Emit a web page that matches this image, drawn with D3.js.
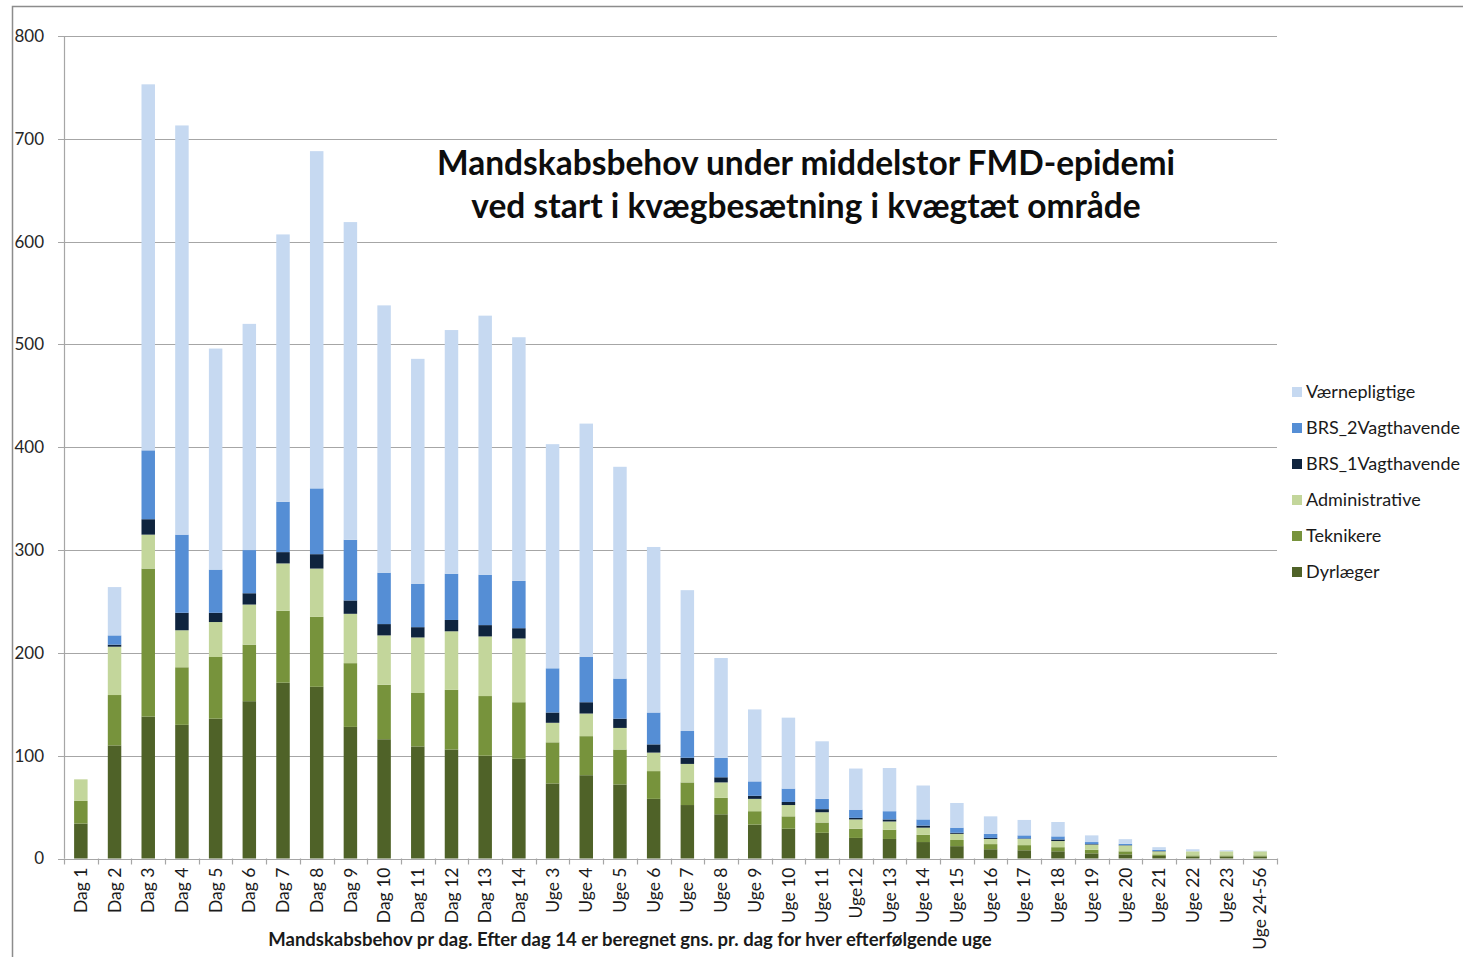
<!DOCTYPE html>
<html>
<head>
<meta charset="utf-8">
<script src="https://cdn.jsdelivr.net/npm/d3@7"></script>
<style>
  body { margin: 0; background: #fff; }
  text { font-family: Lato, "Open Sans", sans-serif; }
</style>
</head>
<body>
<div id="chart"></div>
<script>
var categories = ["Dag 1","Dag 2","Dag 3","Dag 4","Dag 5","Dag 6","Dag 7","Dag 8","Dag 9","Dag 10",
  "Dag 11","Dag 12","Dag 13","Dag 14","Uge 3","Uge 4","Uge 5","Uge 6","Uge 7","Uge 8","Uge 9",
  "Uge 10","Uge 11","Uge12","Uge 13","Uge 14","Uge 15","Uge 16","Uge 17","Uge 18","Uge 19",
  "Uge 20","Uge 21","Uge 22","Uge 23","Uge 24-56"];

// series, bottom to top
var dyrlaeger = [34,110,138,130,136,153,171,167,128,116,109,106,100,97,73,81,72,58,52,43,33,29,25,20,19,16,12,9,8,7,5,4,2.5,2,2,2];
var teknikere = [22,49,144,56,60,55,70,68,62,53,52,58,58,55,40,38,34,27,22,16,13,12,10,9,9,7,6,5,5,4,3.5,3,1.5,1,1,1];
var administrative = [21,47,33,36,34,39,46,47,48,48,54,57,58,62,19,22,21,18,18,15,12,11,10,9,8,7,6,5,6,6,5,5.7,3,4,4,4];
var brs1 = [0,2,15,17,9,11,11,14,13,11,10,11,11,10,10,11,9,8,6,5,3,3,3,1.5,2,2,1,1,0.5,1.5,0.5,0.3,0.3,0,0,0];
var brs2 = [0,9,67,76,42,42,49,64,59,50,42,45,49,46,43,44,39,31,26,19,14,13,10,8,8,6,5,4,3,3,2,1.3,1.2,0,0,0];
var vaernepligtige = [0,47,356,398,215,220,260,328,309,260,219,237,252,237,218,227,206,161,137,97,70,69,56,40,42,33,24,17,15,14,6.5,4.5,2.5,2,1,0.5];

var seriesNames = ["Dyrlæger","Teknikere","Administrative","BRS_1Vagthavende","BRS_2Vagthavende","Værnepligtige"];
var seriesColors = ["#4f6228","#77933c","#c3d69b","#0f243e","#558ed5","#c6d9f1"];
var yTicks = [0,100,200,300,400,500,600,700,800];

var titleLines = ["Mandskabsbehov under middelstor FMD-epidemi", "ved start i kvægbesætning i kvægtæt område"];
var xTitle = "Mandskabsbehov  pr dag. Efter dag 14 er beregnet gns. pr. dag for hver efterfølgende uge";

var W = 1463, H = 957;
var margin = {top: 36, left: 64, right: 186, bottom: 98.5};

var rows = categories.map(function(c, i) {
  return {cat: c, "Dyrlæger": dyrlaeger[i], "Teknikere": teknikere[i], "Administrative": administrative[i],
    "BRS_1Vagthavende": brs1[i], "BRS_2Vagthavende": brs2[i], "Værnepligtige": vaernepligtige[i]};
});

var svg = d3.select("#chart").append("svg")
  .attr("width", W)
  .attr("height", H);

// outer chart frame
svg.append("rect")
  .attr("x", 12.5).attr("y", 6.5)
  .attr("width", W + 20).attr("height", H + 20)
  .attr("fill", "none")
  .attr("stroke", "#8c8c8c")
  .attr("stroke-width", 1.5);

var x = d3.scaleBand()
  .domain(categories)
  .range([margin.left, W - margin.right])
  .paddingInner(0.6)
  .paddingOuter(0.3);

var y = d3.scaleLinear()
  .domain([0, 800])
  .range([H - margin.bottom, margin.top]);

// gridlines
svg.append("g")
  .selectAll("line")
  .data(yTicks)
  .enter().append("line")
    .attr("x1", margin.left - 6)
    .attr("x2", W - margin.right)
    .attr("y1", function(d) { return Math.round(y(d)) + 0.5; })
    .attr("y2", function(d) { return Math.round(y(d)) + 0.5; })
    .attr("stroke", "#a6a6a6")
    .attr("stroke-width", 1.2);

// y axis line
svg.append("line")
  .attr("x1", margin.left + 0.5).attr("x2", margin.left + 0.5)
  .attr("y1", y(800)).attr("y2", y(0))
  .attr("stroke", "#a6a6a6")
  .attr("stroke-width", 1.2);

svg.append("g")
  .selectAll("text")
  .data(yTicks)
  .enter().append("text")
    .attr("x", 44)
    .attr("y", function(d) { return y(d); })
    .attr("dy", "0.35em")
    .attr("text-anchor", "end")
    .style("font-size", "17px")
    .attr("fill", "#262626")
    .text(function(d) { return d; });

// stacked bars
var stack = d3.stack().keys(seriesNames);
var layers = stack(rows);

svg.append("g")
  .selectAll("g")
  .data(layers)
  .enter().append("g")
    .attr("fill", function(d, i) { return seriesColors[i]; })
  .selectAll("rect")
  .data(function(d) { return d; })
  .enter().append("rect")
    .attr("x", function(d) { return x(d.data.cat); })
    .attr("width", x.bandwidth())
    .attr("y", function(d) { return y(d[1]); })
    .attr("height", function(d) { return Math.max(0, y(d[0]) - y(d[1])); });

// x axis ticks at category boundaries
var step = x.step();
var bounds = d3.range(categories.length + 1).map(function(i) { return margin.left + i * step; });
svg.append("g")
  .selectAll("line")
  .data(bounds)
  .enter().append("line")
    .attr("x1", function(d) { return Math.round(d) + 0.5; })
    .attr("x2", function(d) { return Math.round(d) + 0.5; })
    .attr("y1", y(0))
    .attr("y2", y(0) + 6)
    .attr("stroke", "#a6a6a6")
    .attr("stroke-width", 1.2);

svg.append("g")
  .selectAll("text")
  .data(categories)
  .enter().append("text")
    .attr("transform", function(d) {
      return "translate(" + (x(d) + x.bandwidth() / 2) + "," + (y(0) + 9) + ") rotate(-90)";
    })
    .attr("dy", "0.35em")
    .attr("text-anchor", "end")
    .style("font-size", "17.5px")
    .attr("fill", "#1a1a1a")
    .text(function(d) { return d; });

// axis title
svg.append("text")
  .attr("x", 630)
  .attr("y", 946)
  .attr("text-anchor", "middle")
  .style("font-size", "18.5px")
  .style("font-weight", "bold")
  .attr("fill", "#1a1a1a")
  .text(xTitle);

// chart title
svg.append("g")
  .selectAll("text")
  .data(titleLines)
  .enter().append("text")
    .attr("x", 806)
    .attr("y", function(d, i) { return 175 + i * 43; })
    .attr("text-anchor", "middle")
    .style("font-size", "33.5px")
    .style("font-weight", "bold")
    .attr("fill", "#0d0d0d")
    .text(function(d) { return d; });

// legend (top to bottom reverses stack order)
var legendItems = seriesNames.slice().reverse();
var legendColors = seriesColors.slice().reverse();
var legend = svg.append("g")
  .selectAll("g")
  .data(legendItems)
  .enter().append("g")
    .attr("transform", function(d, i) { return "translate(1292," + (392 + i * 36) + ")"; });

legend.append("rect")
  .attr("x", 0).attr("y", -5)
  .attr("width", 10).attr("height", 10)
  .attr("fill", function(d, i) { return legendColors[i]; });

legend.append("text")
  .attr("x", 14)
  .attr("y", 0)
  .attr("dy", "0.35em")
  .style("font-size", "18px")
  .attr("fill", "#1a1a1a")
  .text(function(d) { return d; });
</script>
</body>
</html>
